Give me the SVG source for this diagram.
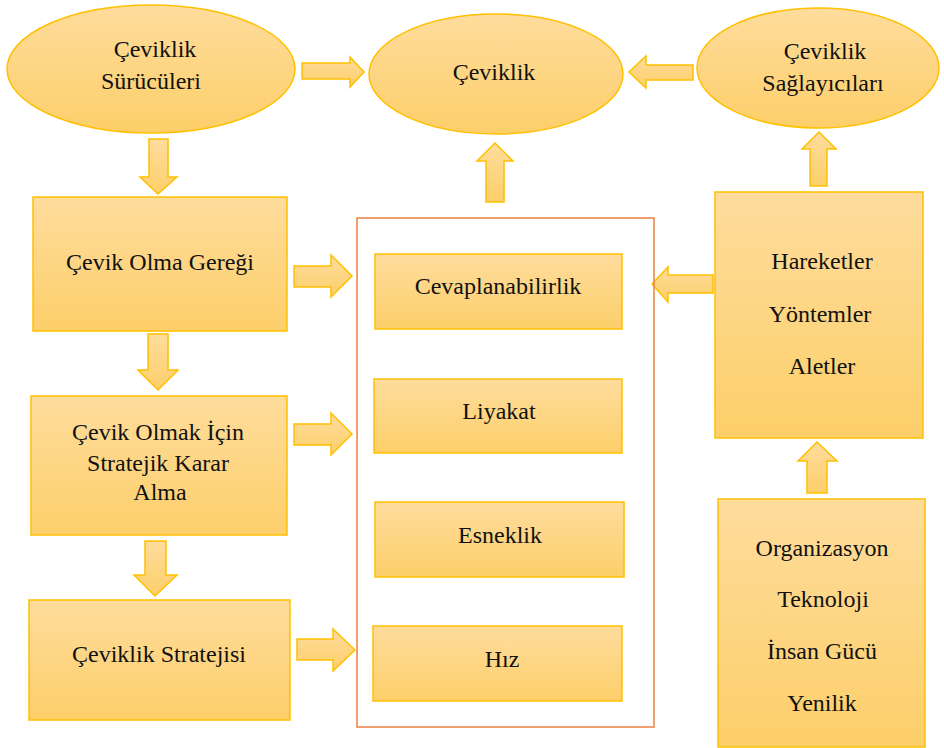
<svg xmlns="http://www.w3.org/2000/svg" width="944" height="748" viewBox="0 0 944 748">
<defs>
<linearGradient id="g" x1="0" y1="0" x2="0" y2="1">
<stop offset="0" stop-color="#FEDC9C"/>
<stop offset="1" stop-color="#FDCF6A"/>
</linearGradient>
<style>
.n{fill:url(#g);stroke:#FFC000;stroke-width:1.5}
.a{fill:url(#g);stroke:#FFC000;stroke-width:1.5;stroke-linejoin:miter}
.t{font-size:24px;fill:#111;text-anchor:middle}
.c{fill:none;stroke:#EE8040;stroke-width:1.5}
</style>
</defs>
<rect width="944" height="748" fill="#fff"/>
<g id="connectors">
<path class="a" d="M302,63 L350,63 L350,57 L364,72 L350,87 L350,79 L302,79 Z"/>
<path class="a" d="M693,65 L646,65 L646,56 L629,72 L646,88 L646,80 L693,80 Z"/>
<path class="a" d="M486,202 L486,161 L477,161 L495,143 L513,161 L504,161 L504,202 Z"/>
<path class="a" d="M149,139 L168,139 L168,177 L177,177 L158,194 L140,177 L149,177 Z"/>
<path class="a" d="M148,334 L168,334 L168,370 L178,370 L158,390 L138,370 L148,370 Z"/>
<path class="a" d="M145,541 L166,541 L166,575 L177,575 L155,596 L134,575 L145,575 Z"/>
<path class="a" d="M294,266 L331,266 L331,255 L352,276 L331,297 L331,287 L294,287 Z"/>
<path class="a" d="M294,424 L331,424 L331,413 L352,434 L331,455 L331,445 L294,445 Z"/>
<path class="a" d="M297,639 L333,639 L333,629 L355,650 L333,671 L333,660 L297,660 Z"/>
<path class="a" d="M810,186 L810,149 L802,149 L819,132 L836,149 L827,149 L827,186 Z"/>
<path class="a" d="M713,275 L668,275 L668,267 L652,284 L668,302 L668,293 L713,293 Z"/>
<path class="a" d="M807,493 L807,461 L798,461 L817,442 L837,461 L827,461 L827,493 Z"/>
</g>
<g id="container">
<rect class="c" x="357" y="218" width="297" height="509"/>
</g>
<g style="font-family:'Times New Roman','Liberation Serif',Tinos,'Noto Serif','DejaVu Serif',serif">
<g id="surucu">
<ellipse class="n" cx="151" cy="69" rx="144" ry="64"/>
<text class="t" x="155" y="57">Çeviklik</text>
<text class="t" x="151" y="89">Sürücüleri</text>
</g>
<g id="ceviklik">
<ellipse class="n" cx="496" cy="74" rx="127" ry="60"/>
<text class="t" x="494" y="80">Çeviklik</text>
</g>
<g id="saglayici">
<ellipse class="n" cx="818" cy="68" rx="121" ry="60"/>
<text class="t" x="825" y="59">Çeviklik</text>
<text class="t" x="823" y="91">Sağlayıcıları</text>
</g>
<g id="gerek">
<rect class="n" x="33" y="197" width="254" height="134"/>
<text class="t" x="160" y="270">Çevik Olma Gereği</text>
</g>
<g id="karar">
<rect class="n" x="31" y="396" width="256" height="139"/>
<text class="t" x="158" y="440">Çevik Olmak İçin</text>
<text class="t" x="158" y="471">Stratejik Karar</text>
<text class="t" x="160" y="500">Alma</text>
</g>
<g id="strateji">
<rect class="n" x="29" y="600" width="261" height="120"/>
<text class="t" x="159" y="662">Çeviklik Stratejisi</text>
</g>
<g id="cevap">
<rect class="n" x="375" y="254" width="247" height="75"/>
<text class="t" x="498" y="294">Cevaplanabilirlik</text>
</g>
<g id="liyakat">
<rect class="n" x="374" y="379" width="248" height="74"/>
<text class="t" x="499" y="419">Liyakat</text>
</g>
<g id="esneklik">
<rect class="n" x="375" y="502" width="249" height="75"/>
<text class="t" x="500" y="543">Esneklik</text>
</g>
<g id="hiz">
<rect class="n" x="373" y="626" width="249" height="75"/>
<text class="t" x="502" y="667">Hız</text>
</g>
<g id="hareket">
<rect class="n" x="715" y="192" width="208" height="246"/>
<text class="t" x="822" y="269">Hareketler</text>
<text class="t" x="820" y="322">Yöntemler</text>
<text class="t" x="822" y="374">Aletler</text>
</g>
<g id="organizasyon">
<rect class="n" x="718" y="499" width="207" height="248"/>
<text class="t" x="822" y="556">Organizasyon</text>
<text class="t" x="823" y="607">Teknoloji</text>
<text class="t" x="822" y="659">İnsan Gücü</text>
<text class="t" x="822" y="711">Yenilik</text>
</g>
</g>
</svg>
